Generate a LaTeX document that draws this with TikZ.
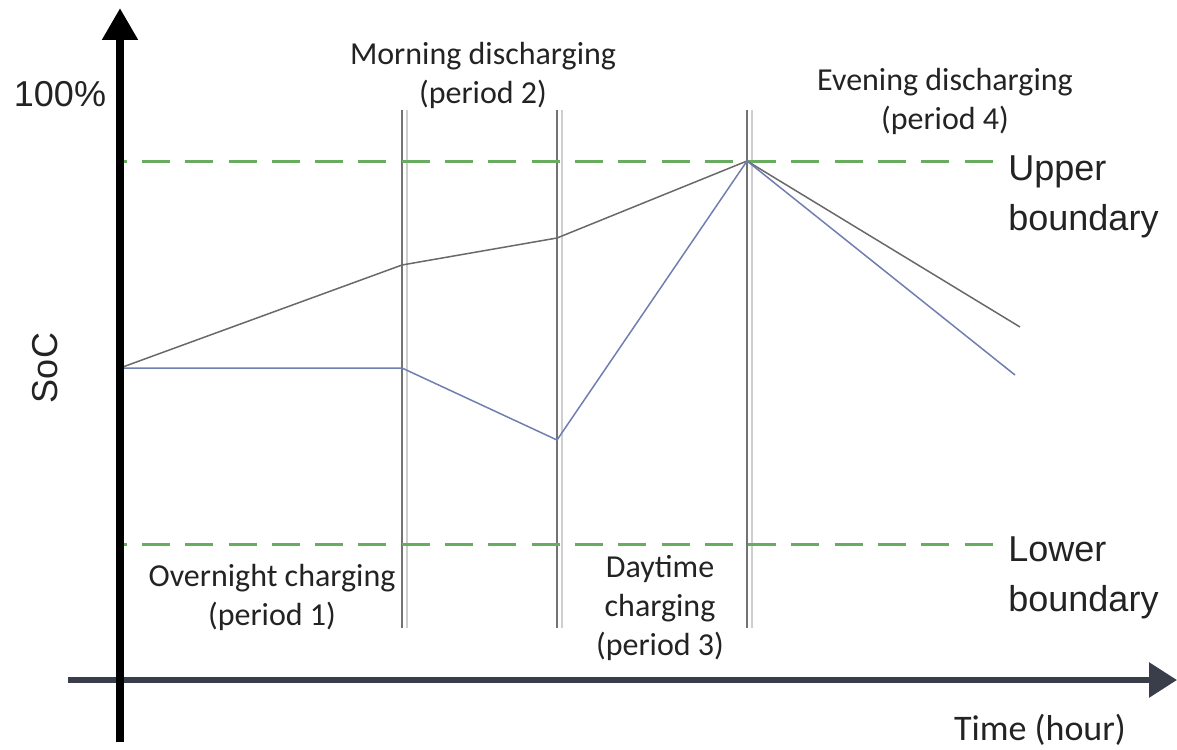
\documentclass[tikz,border=0pt]{standalone}
\usepackage{fontspec}
\setmainfont{Carlito}
\newfontfamily\arialfont{Liberation Sans}
\usetikzlibrary{calc}
\usetikzlibrary{arrows.meta}

\definecolor{axisgray}{RGB}{58,62,74}
\definecolor{boundgreen}{RGB}{104,172,96}
\definecolor{pathgray}{RGB}{105,105,105}
\definecolor{pathblue}{RGB}{112,126,176}
\definecolor{divider}{RGB}{115,115,115}
\definecolor{txt}{RGB}{35,35,35}

\tikzset{
  period/.style={font=\fontsize{16}{19.5}\selectfont, text=txt, align=center, inner sep=0pt},
  bound/.style={font=\arialfont\fontsize{18}{25}\selectfont, text=txt, align=left, anchor=west, inner sep=0pt},
  limit/.style={boundgreen, line width=1.5pt, dash pattern=on 14pt off 7.65pt, dash phase=10.7pt},
}

\begin{document}
\begin{tikzpicture}[x=0.5pt, y=-0.5pt]
\useasboundingbox (0,0) rectangle (1177,749);

\coordinate (s0) at (120,368);
\coordinate (top) at (747,161);
\coordinate (g1) at (402,265);
\coordinate (g2) at (557,238);
\coordinate (g3) at (1020,327);
\coordinate (b1) at (402,368);
\coordinate (b2) at (557,440);
\coordinate (b3) at (1015,375);

% period dividers
\foreach \d in {402,557,747} {
    \draw[divider, line width=0.8pt] (\d,110) -- (\d,628);
    \draw[divider!35, line width=0.6pt] (\d+5,110) -- (\d+5,628);
}

% SoC boundaries
\draw[limit] (120,161) -- (993,161);
\draw[limit] (120,544) -- (993,544);

% SoC trajectories
\draw[pathgray, line width=0.75pt] (s0) -- (g1) -- (g2) -- (top) -- (g3);
\draw[pathblue, line width=0.75pt] (s0) -- (b1) -- (b2) -- (top) -- (b3);

% axes
\draw[axisgray, line width=3pt, -{Triangle[length=14pt, width=17pt]}] (68,680) -- (1177,680);
\draw[line width=4pt, -{Triangle[length=16pt, width=17pt]}] (120,742) -- (120,8);

\node[bound, anchor=center] (hundred) at (60,94) {100\%};
\node[bound, anchor=center, rotate=90] (soc) at (45,368) {SoC};
\node[period] (p2) at (483,75) {Morning discharging\\(period 2)};
\node[period] (p4) at (945,101) {Evening discharging\\(period 4)};
\node[period] (p1) at (272,597) {Overnight charging\\(period 1)};
\node[period] (p3) at (660,608) {Daytime\\charging\\(period 3)};
\node[bound] (upper) at (1008,197) {Upper\\boundary};
\node[bound] (lower) at (1008,578) {Lower\\boundary};
\node[period, font=\fontsize{18}{22}\selectfont] (time) at (1040,730) {Time (hour)};
\end{tikzpicture}
\end{document}
